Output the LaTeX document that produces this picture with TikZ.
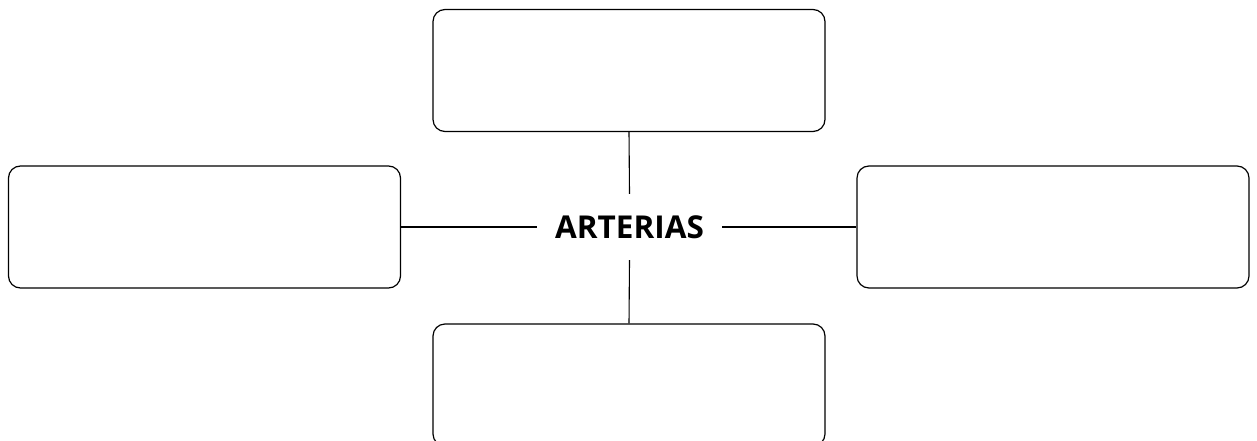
\documentclass[tikz,border=0pt]{standalone}
\usepackage{fontspec}
\setmainfont{Open Sans}
\begin{document}
\begin{tikzpicture}[x=1pt,y=-1pt,
  blank/.style={draw, line width=1.2pt, rounded corners=12pt, minimum width=392pt, minimum height=122pt, inner sep=0pt},
  hub/.style={minimum width=185pt, minimum height=66pt, inner sep=0pt, font=\bfseries\fontsize{31.5}{31.5}\selectfont},
  link/.style={line width=1.1pt}]
\useasboundingbox (0,0) rectangle (1257,441);
\clip (0,0) rectangle (1257,441);
% four empty boxes around the central term
\node[blank] (top)    at (629,70.5) {};
\node[blank] (left)   at (204.5,227) {};
\node[blank] (right)  at (1053,227) {};
\node[blank] (bottom) at (629,385) {};
\node[hub] (hub) at (629.5,227) {\raisebox{-6pt}{ARTERIAS}};
% spokes
\draw[link] (top.south) -- (hub.north);
\draw[link] (hub.south) -- (bottom.north);
\draw[link] (left.east) -- (hub.west);
\draw[link] (hub.east) -- (right.west);
\end{tikzpicture}
\end{document}
